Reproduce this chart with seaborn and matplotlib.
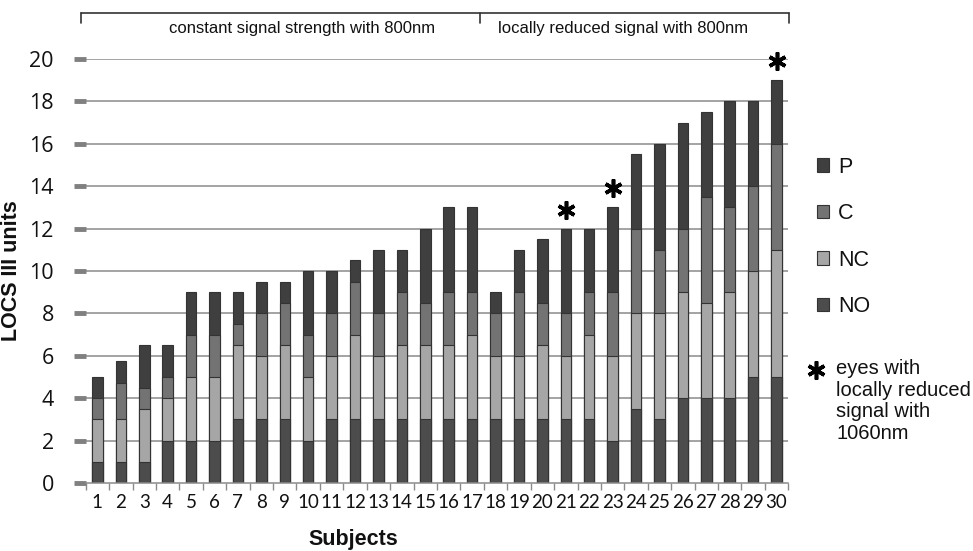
import numpy as np
import pandas as pd
import matplotlib
matplotlib.use("Agg")
import matplotlib.pyplot as plt
from matplotlib.lines import Line2D
from matplotlib.patches import Patch
import seaborn as sns

# ---- data ----
subjects = [str(i) for i in range(1, 31)]
NO = [1, 1, 1, 2, 2, 2, 3, 3, 3, 2, 3, 3, 3, 3, 3, 3, 3, 3, 3, 3,
      3, 3, 2, 3.5, 3, 4, 4, 4, 5, 5]
NC = [2, 2, 2.5, 2, 3, 3, 3.5, 3, 3.5, 3, 3, 4, 3, 3.5, 3.5, 3.5, 4, 3, 3, 3.5,
      3, 4, 4, 4.5, 5, 5, 4.5, 5, 5, 6]
C = [1, 1.7, 1, 1, 2, 2, 1, 2, 2, 2, 2, 2.5, 2, 2.5, 2, 2.5, 2, 2, 3, 2,
     2, 2, 3, 4, 3, 3, 5, 4, 4, 5]
P = [1, 1.05, 2, 1.5, 2, 2, 1.5, 1.5, 1, 3, 2, 1, 3, 2, 3.5, 4, 4, 1, 2, 3,
     4, 3, 4, 3.5, 5, 5, 4, 5, 4, 3]
starred = ["21", "23", "30"]
group_labels = ["constant signal strength with 800nm", "locally reduced signal with 800nm"]
legend_labels = ["P", "C", "NC", "NO"]
star_note = "eyes with\nlocally reduced\nsignal with\n1060nm"

colors = {"NO": "#4c4c4c", "NC": "#a6a6a6", "C": "#737373", "P": "#3f3f3f"}

df = pd.DataFrame({"Subject": subjects, "NO": NO, "NC": NC, "C": C, "P": P})
df["c_NO"] = df["NO"]
df["c_NC"] = df["c_NO"] + df["NC"]
df["c_C"] = df["c_NC"] + df["C"]
df["c_P"] = df["c_C"] + df["P"]

sns.set_style("white")
plt.rcParams["text.color"] = "#111111"
plt.rcParams["xtick.labelcolor"] = "#111111"
plt.rcParams["ytick.labelcolor"] = "#111111"
plt.rcParams["axes.labelcolor"] = "#111111"
fig = plt.figure(figsize=(9.73, 5.51), dpi=100)
W, H = 973, 551
ax_l, ax_r, ax_t, ax_b = 85.7, 788.3, 59, 483
ax = fig.add_axes([ax_l / W, 1 - ax_b / H, (ax_r - ax_l) / W, (ax_b - ax_t) / H])

grid_c = "#8a8a8a"
for y in range(2, 21, 2):
    ax.axhline(y, color=grid_c, lw=1.1, zorder=0)

for key in ["P", "C", "NC", "NO"]:
    sns.barplot(data=df, x="Subject", y="c_" + key, color=colors[key], width=0.45,
                saturation=1, edgecolor="#333333", linewidth=0.8, ax=ax, zorder=2)

# asterisks above bars
star_x = [subjects.index(s) for s in starred]
star_y = [df.loc[i, "c_P"] + 0.9 for i in star_x]
ax.plot(star_x, star_y, linestyle="none", marker=(6, 2, 0), markersize=13,
        markeredgewidth=2.6, color="black", clip_on=False, zorder=5)

ax.set_xlim(-0.5, 29.5)
ax.set_ylim(0, 20)
ax.set_yticks(range(0, 21, 2))
for s in ["top", "right", "left"]:
    ax.spines[s].set_visible(False)
ax.spines["bottom"].set_color(grid_c)
ax.spines["bottom"].set_linewidth(1.1)

ax.tick_params(axis="y", length=9, width=3.5, color="#808080", pad=14,
               labelsize=15.5, left=True)
for lab in ax.get_yticklabels():
    lab.set_family(["Open Sans", "DejaVu Sans"])
ax.tick_params(axis="x", which="major", length=0, pad=8, labelsize=13.5)
for lab in ax.get_xticklabels():
    lab.set_family(["Liberation Sans Narrow", "Lato", "DejaVu Sans"])
ax.set_xticks(np.arange(-0.5, 30, 1), minor=True)
ax.tick_params(axis="x", which="minor", length=5, width=1, color=grid_c, bottom=True)

ax.set_ylabel("LOCS III units", fontsize=15.5, fontweight="bold",
              family=["Liberation Sans", "DejaVu Sans"])
ax.yaxis.set_label_coords((22 - ax_l) / (ax_r - ax_l), 0.5)
ax.set_xlabel("Subjects", fontsize=15.5, fontweight="bold",
              family=["Liberation Sans", "DejaVu Sans"])
ax.xaxis.label.set_va("center")
ax.xaxis.set_label_coords((353 - ax_l) / (ax_r - ax_l), (ax_b - 540) / (ax_b - ax_t))

# top bracket
def fx(px):
    return px / W
def fy(py):
    return 1 - py / H
bc = "#333333"
fig.add_artist(Line2D([fx(81), fx(789)], [fy(13), fy(13)], color=bc, lw=1.2))
for xb in [81, 480, 789]:
    fig.add_artist(Line2D([fx(xb), fx(xb)], [fy(13), fy(23)], color=bc, lw=1.2))
fig.text(fx(302), fy(29), group_labels[0], ha="center", va="center", fontsize=12,
         family=["Liberation Sans", "DejaVu Sans"])
fig.text(fx(623), fy(29), group_labels[1], ha="center", va="center", fontsize=12,
         family=["Liberation Sans", "DejaVu Sans"])

# legend
handles = [Patch(facecolor=colors[k], edgecolor="#333333", linewidth=0.8) for k in legend_labels]
leg = fig.legend(handles, legend_labels, loc="upper left", bbox_to_anchor=(fx(806), fy(146)),
                 frameon=False, borderpad=0, handlelength=0.55, handleheight=0.6,
                 handletextpad=0.45, labelspacing=1.18,
                 prop={"family": ["Liberation Sans", "DejaVu Sans"], "size": 15.5})

fig.add_artist(Line2D([fx(816)], [fy(370)], linestyle="none", marker=(6, 2, 0),
                      markersize=13, markeredgewidth=2.6, color="black"))
fig.text(fx(836), fy(359), star_note, ha="left", va="top", fontsize=14.5,
         linespacing=1.17, family=["Liberation Sans", "DejaVu Sans"])

fig.savefig("out.png", dpi=100)
